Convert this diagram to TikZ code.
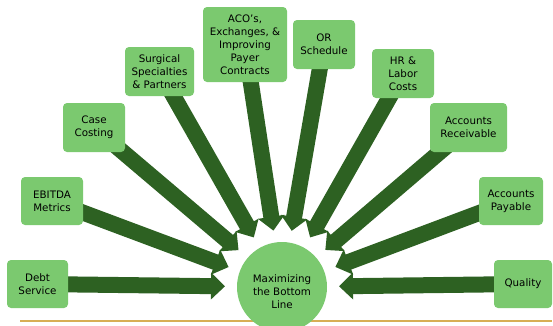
\documentclass[tikz,border=0pt]{standalone}
\usepackage{fontspec}
\setmainfont{DejaVu Sans}
\usetikzlibrary{arrows.meta,calc,backgrounds}
\definecolor{boxg}{HTML}{7BC96F}
\definecolor{arrg}{HTML}{2D6122}
\definecolor{goldl}{HTML}{D8AE55}
\begin{document}
\begin{tikzpicture}[x=1pt,y=-1pt,
  box/.style={fill=boxg, draw=none, rounded corners=4pt, align=center,
    font=\fontsize{10.3}{13}\selectfont, inner sep=0pt},
  hub/.style={circle, fill=boxg, minimum size=90pt, inner sep=0pt},
  hubtext/.style={align=center, font=\fontsize{10.3}{13}\selectfont, inner sep=0pt},
  bigarrow/.style={draw=arrg, line width=16pt,
    -{Triangle[width=26pt,length=14pt]}, arrg}]
\useasboundingbox (0,0) rectangle (553,325);
\node[hub] (c) at (282,287) {};
\node[hubtext] (ct) at (282,292) {Maximizing\\the Bottom\\Line};
\node[box, minimum width=61pt, minimum height=48pt] (b1) at (37.5,284) {Debt\\Service};
\node[box, minimum width=62pt, minimum height=48pt] (b2) at (52,201) {EBITDA\\Metrics};
\node[box, minimum width=62pt, minimum height=49pt] (b3) at (94,127.5) {Case\\Costing};
\node[box, minimum width=69pt, minimum height=49pt] (b4) at (159.5,71.5) {Surgical\\Specialties\\\& Partners};
\node[box, minimum width=84pt, minimum height=75pt] (b5) at (245,44.5) {ACO’s,\\Exchanges, \&\\Improving\\Payer\\Contracts};
\node[box, minimum width=62pt, minimum height=49pt] (b6) at (324,44.5) {OR\\Schedule};
\node[box, minimum width=62pt, minimum height=49pt] (b7) at (403,73.5) {HR \&\\Labor\\Costs};
\node[box, minimum width=77pt, minimum height=49pt] (b8) at (468.5,127.5) {Accounts\\Receivable};
\node[box, minimum width=64pt, minimum height=48pt] (b9) at (511,201) {Accounts\\Payable};
\node[box, minimum width=58pt, minimum height=48pt] (b10) at (523,284) {Quality};
\begin{scope}[on background layer]
\draw[goldl, line width=1.5pt] (20,321) -- (552,321);
\foreach \b in {b1,b2,b3,b4,b5,b6,b7,b8,b9,b10}{
  \draw[bigarrow] (\b.center) -- ($(c.center)!57pt!(\b.center)$);
}
\end{scope}
\end{tikzpicture}
\end{document}
